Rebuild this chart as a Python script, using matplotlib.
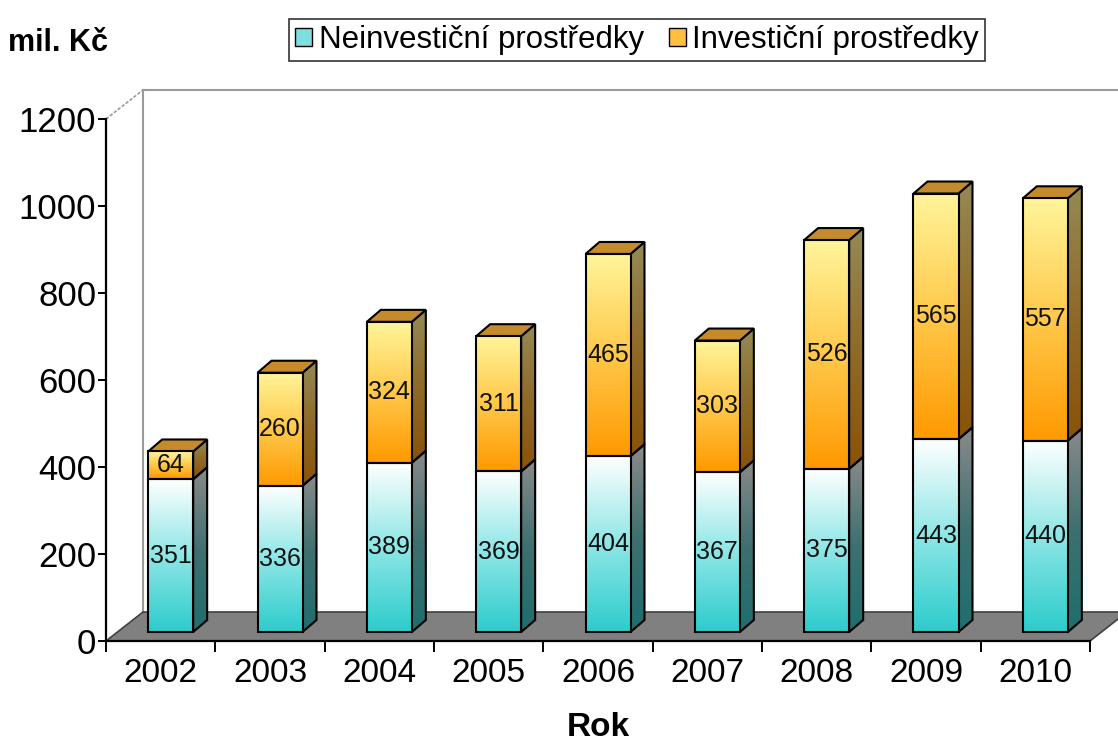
import matplotlib
matplotlib.use("Agg")
import matplotlib.pyplot as plt
import numpy as np
from matplotlib.patches import Polygon, Rectangle
from matplotlib.colors import LinearSegmentedColormap

years = ['2002', '2003', '2004', '2005', '2006', '2007', '2008', '2009', '2010']
neinvesticni = [351, 336, 389, 369, 404, 367, 375, 443, 440]
investicni = [64, 260, 324, 311, 465, 303, 526, 565, 557]
series_names = ['Neinvestiční prostředky', 'Investiční prostředky']
y_ticks = [0, 200, 400, 600, 800, 1000, 1200]

plt.rcParams['font.family'] = ['Liberation Sans', 'DejaVu Sans']

W, H = 1118, 742
fig = plt.figure(figsize=(W / 100, H / 100), dpi=100)
# plot box: x 106..1090 px, y 119..641 px
ax = fig.add_axes([106 / W, (H - 641) / H, 984 / W, 522 / H])
ax.set_xlim(-0.5, 8.5)
ax.set_ylim(0, 1200)
ax.patch.set_visible(False)

# pixel -> data conversion for the fake 3D depth
cx = 9 / 984.0
cy = 1200 / 522.0

floor_dx, floor_dy = 37 * cx, 29 * cy
bar_off_x, bar_off_y = 10 * cx, 9 * cy
half_w = 22.5 * cx
side_dx, side_dy = 14 * cx, 12 * cy


def grad_poly(verts, top, bottom, z, edge='black', lw=1.5):
    poly = Polygon(verts, closed=True, facecolor='none', edgecolor=edge,
                   lw=lw, zorder=z + 0.1, clip_on=False)
    ax.add_patch(poly)
    xs = [v[0] for v in verts]
    ys = [v[1] for v in verts]
    if isinstance(bottom, list):
        cols = bottom + [top]
    else:
        cols = [bottom, top]
    cmap = LinearSegmentedColormap.from_list('g', cols)
    g = np.linspace(0, 1, 256).reshape(-1, 1)
    im = ax.imshow(g, extent=(min(xs), max(xs), min(ys), max(ys)), origin='lower',
                   cmap=cmap, aspect='auto', zorder=z, interpolation='bilinear')
    im.set_clip_path(poly)
    im.set_clip_on(True)


# back wall outline
x0 = -0.5 + floor_dx
ax.plot([x0, x0], [floor_dy, 1200 + floor_dy], color='#9a9a9a', lw=1.5, clip_on=False, zorder=1)
ax.plot([x0, 9.0], [1200 + floor_dy, 1200 + floor_dy], color='#9a9a9a', lw=1.5, clip_on=False, zorder=1)
ax.plot([-0.5, x0], [1200, 1200 + floor_dy], color='#9a9a9a', lw=1.2, ls=(0, (2, 1)), clip_on=False, zorder=1)

# floor
floor = Polygon([(-0.5, 0), (8.5, 0), (8.5 + floor_dx, floor_dy), (-0.5 + floor_dx, floor_dy)],
                closed=True, facecolor='#808080', edgecolor='#404040', lw=1.2, zorder=2, clip_on=False)
ax.add_patch(floor)

# stacked bars
for i in range(len(years)):
    xl = i + bar_off_x - half_w
    xr = i + bar_off_x + half_w
    b0 = bar_off_y
    b1 = b0 + neinvesticni[i]
    b2 = b1 + investicni[i]
    # front faces
    grad_poly([(xl, b0), (xr, b0), (xr, b1), (xl, b1)], '#ffffff', ['#2ccccc', '#8ee6e6'], 5)
    grad_poly([(xl, b1), (xr, b1), (xr, b2), (xl, b2)], '#fff59a', ['#ff9900', '#ffc84a'], 5)
    # side faces
    grad_poly([(xr, b0), (xr + side_dx, b0 + side_dy), (xr + side_dx, b1 + side_dy), (xr, b1)],
              '#8a8a8a', ['#1e6e6e', '#3f7070'], 4)
    grad_poly([(xr, b1), (xr + side_dx, b1 + side_dy), (xr + side_dx, b2 + side_dy), (xr, b2)],
              '#958a55', ['#8a5208', '#8f6a2a'], 4)
    # top face
    top = Polygon([(xl, b2), (xr, b2), (xr + side_dx, b2 + side_dy), (xl + side_dx, b2 + side_dy)],
                  closed=True, facecolor='#c48a2c', edgecolor='black', lw=1.5, zorder=4.5, clip_on=False)
    ax.add_patch(top)
    # value labels
    ax.text(i + bar_off_x, b0 + neinvesticni[i] / 2, str(neinvesticni[i]), ha='center', va='center',
            fontsize=18, color='#111111', zorder=8)
    ax.text(i + bar_off_x, b1 + investicni[i] / 2, str(investicni[i]), ha='center', va='center',
            fontsize=18, color='#111111', zorder=8)

# axes
for s in ['top', 'right']:
    ax.spines[s].set_visible(False)
ax.spines['left'].set_linewidth(1.6)
ax.spines['bottom'].set_linewidth(1.6)
ax.spines['left'].set_zorder(6)
ax.spines['bottom'].set_zorder(6)
ax.set_yticks(y_ticks)
ax.tick_params(axis='y', length=6, width=1.4, labelsize=25, pad=1)
ax.set_xticks(np.arange(-0.5, 9.0, 1.0))
ax.set_xticklabels([])
ax.set_xticks(np.arange(len(years)), minor=True)
ax.set_xticklabels(years, minor=True)
ax.tick_params(axis='x', which='major', length=8, width=1.4, direction='out')
ax.tick_params(axis='x', which='minor', length=0, labelsize=24, pad=12)

fig.text(8 / W, 1 - 43 / H, 'mil. Kč', fontsize=22, fontweight='bold', va='center', ha='left')
fig.text(598 / W, 1 - 727 / H, 'Rok', fontsize=24, fontweight='bold', va='center', ha='center')

handles = [Rectangle((0, 0), 1, 1, facecolor='#7fdede', edgecolor='black', lw=1),
           Rectangle((0, 0), 1, 1, facecolor='#ffc040', edgecolor='black', lw=1)]
leg = fig.legend(handles, series_names, loc='center', bbox_to_anchor=(637 / W, 1 - 40 / H),
                 ncol=2, fontsize=22.5, frameon=True, fancybox=False, edgecolor='black',
                 handlelength=0.55, handleheight=0.55, handletextpad=0.2, columnspacing=0.8,
                 borderpad=0.2, borderaxespad=0)
leg.get_frame().set_linewidth(1.2)

fig.savefig('out.png', dpi=100)
